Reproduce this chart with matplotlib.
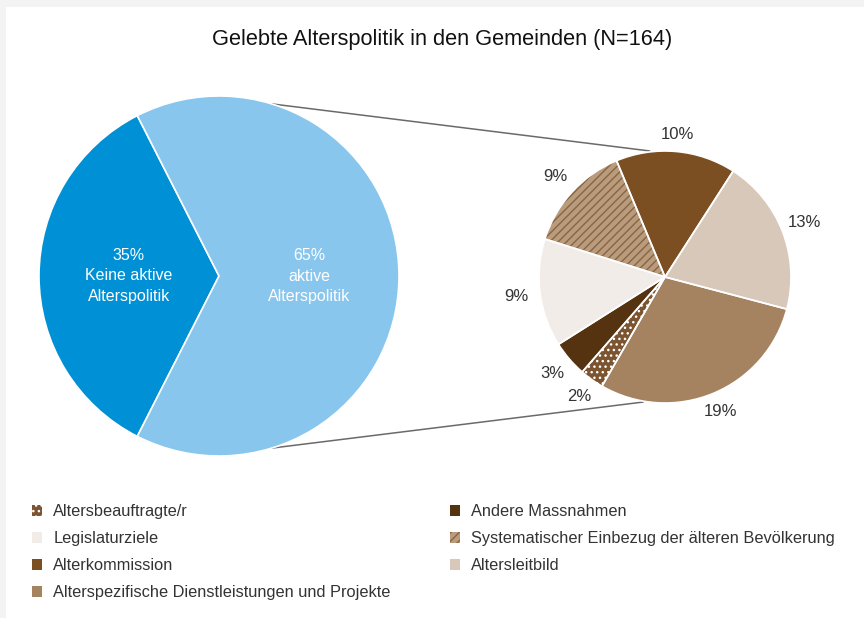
import numpy as np
import matplotlib
matplotlib.use('Agg')
import matplotlib.pyplot as plt
from matplotlib.patches import Patch, Rectangle

plt.rcParams['font.family'] = ['Liberation Sans', 'DejaVu Sans']
plt.rcParams['hatch.linewidth'] = 1.0

# Daten
haupt_werte = [35, 65]
haupt_labels = ['35%\nKeine aktive\nAlterspolitik', '65%\naktive\nAlterspolitik']
haupt_farben = ['#0090d5', '#88c6ee']

kategorien = ['Altersbeauftragte/r', 'Andere Massnahmen', 'Legislaturziele',
              'Systematischer Einbezug der älteren Bevölkerung', 'Alterkommission',
              'Altersleitbild', 'Alterspezifische Dienstleistungen und Projekte']
werte = [2, 3, 9, 9, 10, 13, 19]
farben = ['#7d5430', '#553310', '#f1ece8', '#b99c7e', '#7b4f22', '#d8c8b9', '#a58360']
muster = ['...', None, None, '////', None, None, None]
musterfarben = ['#ffffff', '#553310', '#f1ece8', '#8a6440', '#7b4f22', '#d8c8b9', '#a58360']

W, H = 864, 618
fig = plt.figure(figsize=(W / 100, H / 100), dpi=100, facecolor='#f3f3f3')
ax = fig.add_axes([0, 0, 1, 1])
ax.set_facecolor('none')

links = (219, H - 276)
rechts = (665, H - 277)
r_links, r_rechts = 180, 126

# linker Kreis
w1, t1 = ax.pie(haupt_werte, colors=haupt_farben, startangle=117, center=links,
                radius=r_links, labels=haupt_labels, labeldistance=0.5,
                wedgeprops=dict(edgecolor='white', linewidth=1.2),
                textprops=dict(color='white', fontsize=11.5, linespacing=1.45))
for t in t1:
    t.set_ha('center')
    t.set_va('center')

# rechter Kreis, Füllung mit Muster
w2, t2 = ax.pie(werte, colors=farben, startangle=-120, counterclock=False,
                center=rechts, radius=r_rechts,
                labels=[f'{v}%' for v in werte], labeldistance=1.15,
                wedgeprops=dict(linewidth=0),
                textprops=dict(color='#333333', fontsize=12))
for w, h, mc in zip(w2, muster, musterfarben):
    w.set_edgecolor(mc)
    if h:
        w.set_hatch(h)
# Beschriftungen: etwas mehr Abstand seitlich als oben/unten
for w, t in zip(w2, t2):
    a = np.deg2rad((w.theta1 + w.theta2) / 2)
    d = r_rechts * 1.13 + 8 * abs(np.cos(a))
    t.set_position((rechts[0] + d * np.cos(a), rechts[1] + d * np.sin(a)))
    t.set_ha('center')
    t.set_va('center')
# weisse Trennlinien darüber
ax.pie(werte, colors=['none'] * len(werte), startangle=-120, counterclock=False,
       center=rechts, radius=r_rechts,
       wedgeprops=dict(edgecolor='white', linewidth=1.2, facecolor='none'))

# Verbindungslinien
def rand(c, r, a):
    a = np.deg2rad(a)
    return c[0] + r * np.cos(a), c[1] + r * np.sin(a)

for a1, a2 in [(73, 97), (-73, -100)]:
    p = rand(links, r_links, a1)
    q = rand(rechts, r_rechts + 1, a2)
    ax.plot([p[0], q[0]], [p[1], q[1]], color='#6a6a6a', lw=1.1, zorder=0)

ax.add_patch(Rectangle((6, 0), W - 6, H - 7, facecolor='white', edgecolor='none', zorder=-5))
ax.set_xlim(0, W)
ax.set_ylim(0, H)
ax.set_aspect('equal')
ax.axis('off')

fig.text(442 / W, 1 - 40 / H, 'Gelebte Alterspolitik in den Gemeinden (N=164)',
         ha='center', va='center', fontsize=15.7, color='#111111')

# Legende
handles = [Patch(facecolor=f, edgecolor=mc, hatch=h, linewidth=0)
           for f, h, mc in zip(farben, muster, musterfarben)]
reihenfolge = [0, 2, 4, 6, 1, 3, 5]
fig.legend([handles[i] for i in reihenfolge], [kategorien[i] for i in reihenfolge],
           loc='upper left', bbox_to_anchor=(32 / W, 1 - 504 / H), ncol=2,
           frameon=False, fontsize=11.8, handlelength=0.62, handleheight=0.62,
           handletextpad=0.68, labelspacing=0.74, columnspacing=3.6,
           borderpad=0, borderaxespad=0, labelcolor='#333333')

fig.savefig('out.png', dpi=100, facecolor=fig.get_facecolor())
